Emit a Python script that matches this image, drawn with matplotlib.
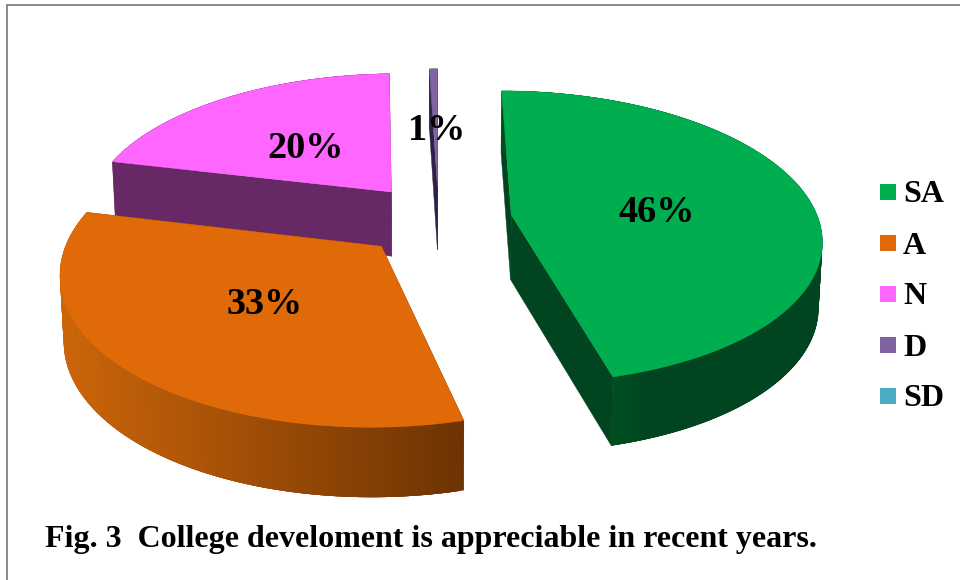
import numpy as np
import matplotlib
matplotlib.use("Agg")
import matplotlib.pyplot as plt
from matplotlib.colors import to_rgb
from matplotlib.patches import Polygon, Rectangle

categories = ["SA", "A", "N", "D", "SD"]
values = [46, 32.7, 20.8, 0.5, 0]
pct_labels = ["46%", "33%", "20%", "1%"]
title = "Fig. 3  College develoment is appreciable in recent years."

colors = ["#00AE4F", "#E06A08", "#FF66FF", "#8064A2", "#4BACC6"]
side_left = ["#00501F", "#CC650A", "#662966", "#3A2A55", "#4BACC6"]
side_right = ["#00451F", "#6C3303", "#662966", "#3A2A55", "#4BACC6"]
radial_side = ["#00451F", "#6C3303", "#662966", "#2E2145", "#4BACC6"]
explode = [0.24, 0.258, 0.25, 0.24, 0.24]

label_xy = [(657, 212), (265, 305), (306, 148), (437, 130)]
legend_y = [192, 243, 294, 345, 396]

# perspective model of the tilted pie (pixels)
CX, CY, R, B, K, DEPTH = 438.5, 219.0, 307.0, 144.0, 0.153, 65.0

SERIF = "Liberation Serif"


def project(u, v, bottom=False):
    w = 1 + K * v
    x = R * u / w
    y = -B * v / w
    if bottom:
        x = x * 0.99
        y = y + DEPTH / w ** 0.37
    return np.column_stack([CX + x, CY + y])


def unit(a):
    return np.sin(a), np.cos(a)


fig = plt.figure(figsize=(9.6, 5.8), dpi=100, facecolor="white")
ax = fig.add_axes([0, 0, 1, 1])
ax.set_xlim(0, 960)
ax.set_ylim(580, 0)
ax.axis("off")

# frame
ax.plot([7, 7, 960], [580, 4.5, 4.5], color="#808080", lw=1.3, solid_joinstyle="miter")

total = sum(values)
edges = np.cumsum([0] + values) / total * 2 * np.pi
wedges = []
for i, val in enumerate(values):
    if val > 0:
        wedges.append((edges[i], edges[i + 1], i))
# paint from the back of the pie to the front
wedges.sort(key=lambda t: -np.cos((t[0] + t[1]) / 2))

for a0, a1, i in wedges:
    mid = (a0 + a1) / 2
    ox, oy = explode[i] * np.sin(mid), explode[i] * np.cos(mid)
    t = np.linspace(a0, a1, 240)
    su, sv = unit(t)
    u = ox + su
    v = oy + sv
    top = project(u, v)
    bot = project(u, v, bottom=True)
    apex_t = project(np.array([ox]), np.array([oy]))
    apex_b = project(np.array([ox]), np.array([oy]), bottom=True)

    # radial faces
    for idx in (0, -1):
        quad = np.vstack([apex_t, top[idx], bot[idx], apex_b])
        ax.add_patch(Polygon(quad, closed=True, fc=radial_side[i], ec=radial_side[i], lw=0.3))

    # outer rim, shaded left to right; quads overlap so no seams show
    c0, c1 = np.array(to_rgb(side_left[i])), np.array(to_rgb(side_right[i]))
    x_lo, x_hi = 63.0, 462.0
    if i == 0:
        x_lo, x_hi = 610.0, 640.0
    for j in range(len(t) - 1):
        k = min(j + 4, len(t) - 1)
        quad = np.vstack([top[j], top[k], bot[k], bot[j]])
        f = np.clip((quad[:, 0].mean() - x_lo) / (x_hi - x_lo), 0, 1)
        col = c0 + (c1 - c0) * f
        ax.add_patch(Polygon(quad, closed=True, fc=col, ec="none"))

    # top face
    poly = np.vstack([apex_t, top])
    ax.add_patch(Polygon(poly, closed=True, fc=colors[i], ec=colors[i], lw=0.3))

# data labels
for (x, y), s in zip(label_xy, pct_labels):
    ax.text(x, y, s, family=SERIF, weight="bold", fontsize=27.5, ha="center",
            va="center", color="black")

# legend
for name, col, y in zip(categories, colors, legend_y):
    ax.add_patch(Rectangle((880, y - 8), 16, 16, fc=col, ec="none"))
    ax.text(903, y + 3, name, family=SERIF, weight="bold", fontsize=23, ha="left",
            va="center", color="black")

ax.text(45, 539, title, family=SERIF, weight="bold", fontsize=23.05, ha="left",
        va="center", color="black")

fig.savefig("out.png", dpi=100, facecolor="white")
